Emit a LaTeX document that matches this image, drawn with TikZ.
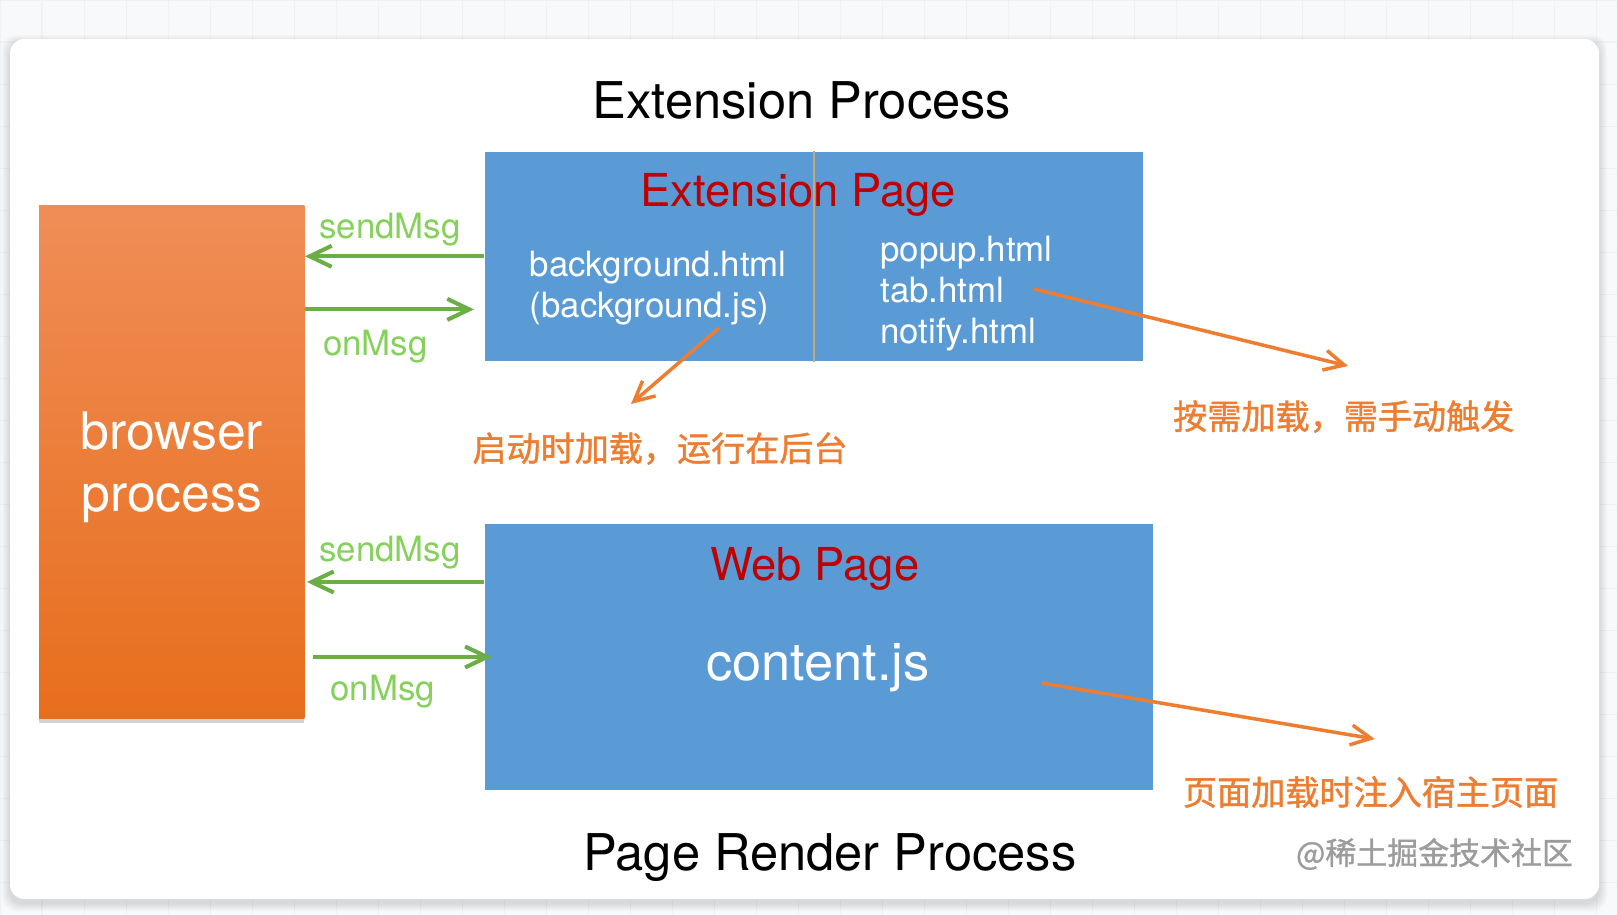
\documentclass[tikz,border=0pt]{standalone}
\usepackage{fontspec}
\setmainfont{TeX Gyre Heros}
\newfontfamily\cjk[FakeBold=1.2]{Noto Sans CJK SC}
\usepackage{tikz}
\usetikzlibrary{arrows.meta, positioning, shadows, calc}
\definecolor{fondo}{HTML}{F7F9FB}
\definecolor{rejilla}{HTML}{EDF2F6}
\definecolor{azulpag}{HTML}{5B9BD5}
\definecolor{rojo}{HTML}{C00000}
\definecolor{verde}{HTML}{6AAE45}
\definecolor{verdeclaro}{HTML}{86D05C}
\definecolor{naranja}{HTML}{ED7D31}
\definecolor{naranjaclaro}{HTML}{F08D57}
\definecolor{naranjaoscuro}{HTML}{E76E1C}
\definecolor{divisor}{HTML}{C9A77C}
\definecolor{marca}{HTML}{9C9C9C}
\tikzset{
  pagina/.style={rectangle, fill=azulpag, inner sep=0pt},
  navegador/.style={rectangle, top color=naranjaclaro, bottom color=naranjaoscuro,
    minimum width=2.65cm, minimum height=5.136cm, text=white, align=center,
    font=\fontsize{14.7}{17.6}\selectfont,
    drop shadow={opacity=0.35, shadow xshift=0pt, shadow yshift=-1.2pt}},
  titulo/.style={font=\fontsize{14.4}{17}\selectfont, inner sep=0pt},
  rotulo/.style={font=\fontsize{12.9}{15}\selectfont, text=rojo, inner sep=0pt},
  archivo/.style={font=\fontsize{9.9}{11.7}\selectfont, text=white, align=left, inner sep=0pt},
  msgtxt/.style={font=\fontsize{9.9}{12}\selectfont, text=verdeclaro, inner sep=0pt},
  nota/.style={font=\cjk\fontsize{9.7}{12}\selectfont, text=naranja, inner sep=0pt},
  flecha/.style={-{Straight Barb[length=2.2mm, width=2.1mm]}, verde, line width=1.15pt},
  carga/.style={-{Straight Barb[length=2mm, width=2mm]}, naranja, line width=1pt}
}
\begin{document}
\begin{tikzpicture}[x=0.01cm, y=-0.01cm]
  \useasboundingbox (0,0) rectangle (1617,915);

  % --- Fondo y tarjeta ---
  \fill[fondo] (0,0) rectangle (1617,915);
  \draw[rejilla, line width=0.3pt, step=0.42cm] (0,0) grid (1617,915);
  \foreach \s in {1,...,8}
    \fill[black, opacity=0.014, rounded corners=4pt] (10-\s,43-\s) rectangle (1599+\s,903+\s);
  \fill[white, rounded corners=4pt] (10,39) rectangle (1599,899);

  % --- Extension Process ---
  \node[titulo] (extproc) at (802,100) {Extension Process};
  \node[pagina, minimum width=6.58cm, minimum height=2.094cm] (extpage) at (813.7,256.3) {};
  \draw[divisor, line width=0.5pt] (extpage.north) -- (extpage.south);
  \node[rotulo] (extlabel) at (798,195) {Extension Page};
  \node[archivo, anchor=west] (bg) at (529,288.5) {background.html\\(background.js)};
  \node[archivo, anchor=west] (popups) at (879.7,293.5) {popup.html\\tab.html\\notify.html};

  % --- browser process ---
  \node[navegador, text depth=-7pt] (browser) at (171.7,462) {browser\\process};

  % --- Page Render Process ---
  \node[pagina, minimum width=6.683cm, minimum height=2.661cm] (webpage) at (818.85,657) {};
  \node[text=white, font=\fontsize{14.9}{17}\selectfont, inner sep=0pt] (content) at (817.8,668) {content.js};
  \node[rotulo] (weblabel) at (814.7,569) {Web Page};
  \node[titulo] (renderproc) at (830,858) {Page Render Process};

  % --- Mensajes ---
  \draw[flecha] (extpage.west) -- (extpage.west -| browser.east);
  \node[msgtxt] (send1) at (390,230) {sendMsg};
  \coordinate (on1) at (474,309.4);
  \draw[flecha] (browser.east |- on1) -- (on1);
  \node[msgtxt] (recv1) at (375.5,346.5) {onMsg};

  \draw[flecha, shorten >=0.02cm] ($(webpage.west)+(0,-75)$) coordinate (s2) -- (s2 -| browser.east);
  \node[msgtxt] (send2) at (390,553) {sendMsg};
  \draw[flecha, shorten <=0.08cm, shorten >=-0.08cm] (browser.east |- webpage.west) -- (webpage.west);
  \node[msgtxt] (recv2) at (382.6,692) {onMsg};

  % --- Notas de carga ---
  \coordinate (t1) at (719,328);  \coordinate (h1) at (631,404);
  \coordinate (t2) at (1034,289); \coordinate (h2) at (1348,366);
  \coordinate (t3) at (1041.6,683); \coordinate (h3) at (1374.7,739);
  \draw[carga] (t1) -- (h1);
  \draw[carga] (t2) -- (h2);
  \draw[carga] (t3) -- (h3);
  \node[nota] (n1) at (660,448.6) {启动时加载，运行在后台};
  \node[nota] (n2) at (1343.8,416.6) {按需加载，需手动触发};
  \node[nota] (n3) at (1370.6,792) {页面加载时注入宿主页面};

  \node[font=\cjk\fontsize{8.8}{10}\selectfont, text=marca, inner sep=0pt] (marca) at (1434.5,854) {@稀土掘金技术社区};
\end{tikzpicture}
\end{document}
